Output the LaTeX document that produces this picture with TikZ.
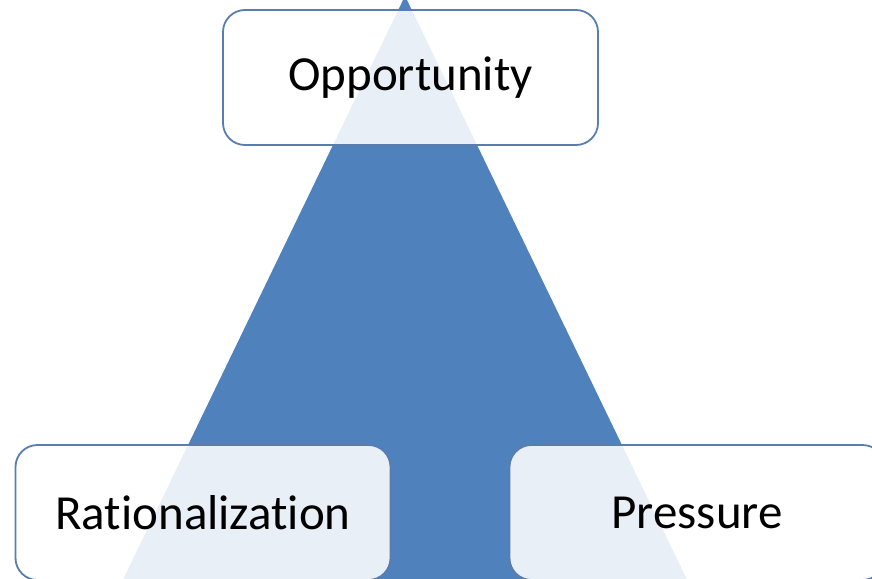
\documentclass[tikz,border=0pt]{standalone}
\usepackage{fontspec}
\setmainfont{Carlito}[Ligatures=NoCommon]
\definecolor{triblue}{HTML}{4F81BD}
\definecolor{edgeblue}{HTML}{5A7DB0}
\tikzset{
  corner/.style={draw=edgeblue,line width=1.8pt,fill=white,fill opacity=0.88,text opacity=1,
    rounded corners=22pt,minimum width=375pt,minimum height=135pt,
    font=\fontsize{49}{58}\selectfont}
}

\begin{document}
\begin{tikzpicture}[x=1pt,y=-1pt]
  \clip (0,0) rectangle (872,578);
  \fill[white] (0,0) rectangle (872,578);
  % triangle behind
  \fill[triblue] (405,-4) -- (118,590) -- (692,590) -- cycle;
  \node[corner](opp)at(410.5,77.5){Opportunity};
  \node[corner](rat)at(203,512.5){Rationalization};
  \node[corner](pre)at(697,512.5){Pressure};
\end{tikzpicture}
\end{document}
